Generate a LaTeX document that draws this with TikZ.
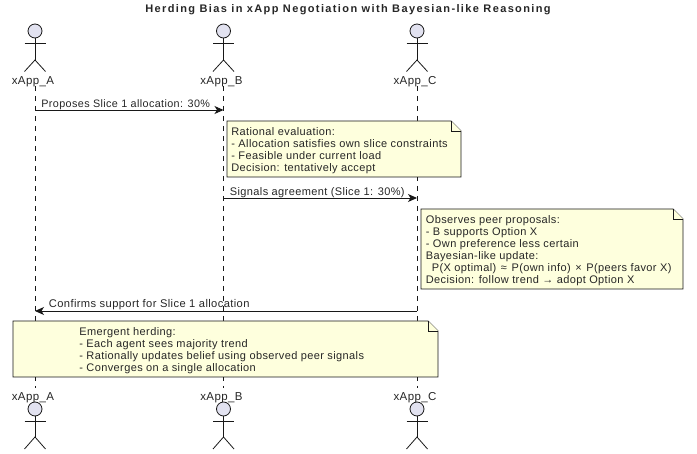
\documentclass[tikz,border=0pt]{standalone}
\usepackage{fontspec}
\setmainfont{Liberation Sans}
\newfontfamily\titlefont[LetterSpace=12.5]{Liberation Sans}
\newfontfamily\notefont[LetterSpace=3.5]{Liberation Sans}
\usetikzlibrary{arrows.meta}
\definecolor{actorFill}{HTML}{E2E2F0}
\definecolor{noteFill}{HTML}{FEFFDD}
\definecolor{lineGray}{HTML}{181818}

\begin{document}
\begin{tikzpicture}[x=1pt, y=-1pt, line width=.8pt, draw=lineGray, text=black!85]
	\tikzstyle{label} = [inner sep=0pt, font=\notefont\fontsize{11}{12}\selectfont, align=left]
	\tikzstyle{actorName} = [inner sep=0pt, font=\notefont\fontsize{11.5}{12}\selectfont]
	\tikzstyle{head} = [circle, draw=lineGray, fill=actorFill, minimum size=14pt, inner sep=0pt]
	\tikzstyle{lifeline} = [dash pattern=on 5pt off 5pt, line width=.8pt]
	\tikzstyle{message} = [-{Stealth[length=9pt, width=8pt, inset=2.5pt]}, line width=.9pt]
	\tikzstyle{noteBox} = [draw=lineGray, fill=noteFill, line width=.9pt]
	\useasboundingbox (0,0) rectangle (697,454);

	\node[inner sep=0pt, font=\titlefont\bfseries\fontsize{11}{12}\selectfont] (title) at (348,10) {Herding Bias in xApp Negotiation with Bayesian-like Reasoning};

	\foreach \name/\pos/\text in {a/35/xApp\_A, b/223.5/xApp\_B, c/417/xApp\_C}
	{
		\node[head] (\name Top) at (\pos,31) {};
		\coordinate (\name Waist) at (\pos,60);
		\draw (\name Top.south) -- (\name Waist);
		\draw (\pos-10.5,43.5) -- (\pos+10.5,43.5);
		\draw (\pos-10.5,71.5) -- (\name Waist) -- (\pos+10.5,71.5);
		\node[actorName] (\name Label) at (\pos-2,81.5) {\text};

		\node[actorName] (\name End) at (\pos-2,398) {\text};
		\node[head] (\name Bottom) at (\pos,409) {};
		\coordinate (\name Foot) at (\pos,437);
		\draw (\name Bottom.south) -- (\name Foot);
		\draw (\pos-10.5,421.5) -- (\pos+10.5,421.5);
		\draw (\pos-10.5,449) -- (\name Foot) -- (\pos+10.5,449);

		\coordinate (\name Start) at (\pos,86);
		\coordinate (\name Stop) at (\pos,388);
		\draw[lifeline] (\name Start) -- (\name Stop);
		\coordinate (\name One) at (\pos,110);
		\coordinate (\name Two) at (\pos,198);
		\coordinate (\name Three) at (\pos,311);
	}

	\draw[message] (aOne) -- (bOne);
	\node[label, anchor=base west, font=\notefont\fontsize{10.8}{12}\selectfont] (firstLabel) at (41,108) {Proposes Slice 1 allocation: 30\%};

	\draw[noteBox] (227,121) -- (451,121) -- (461,131) -- (461,177) -- (227,177) -- cycle;
	\draw[noteBox] (451,121) -- (451,131) -- (461,131);
	\node[label, anchor=west] (rationalNote) at (231,150.5) {Rational evaluation:\\- Allocation satisfies own slice constraints\\- Feasible under current load\\Decision: tentatively accept};

	\draw[message] (bTwo) -- (cTwo);
	\node[label, anchor=base west] (secondLabel) at (229.5,195.5) {Signals agreement (Slice 1: 30\%)};

	\draw[noteBox] (421,209) -- (673,209) -- (683,219) -- (683,289) -- (421,289) -- cycle;
	\draw[noteBox] (673,209) -- (673,219) -- (683,219);
	\node[label, anchor=west] (bayesNote) at (425.5,250.5) {Observes peer proposals:\\- B supports Option X\\- Own preference less certain\\Bayesian-like update:\\\hspace{6pt}P(X optimal)\hspace{1.2pt} ≈ \hspace{1.2pt}P(own info)\hspace{1.2pt} × \hspace{1.2pt}P(peers favor X)\\Decision: follow trend → adopt Option X};

	\draw[message] (cThree) -- (aThree);
	\node[label, anchor=base west, font=\notefont\fontsize{11.15}{12}\selectfont] (thirdLabel) at (48.5,307.5) {Confirms support for Slice 1 allocation};

	\draw[noteBox] (13,321) -- (428,321) -- (438,331) -- (438,377) -- (13,377) -- cycle;
	\draw[noteBox] (428,321) -- (428,331) -- (438,331);
	\node[label, anchor=west] (herdNote) at (79,350.5) {Emergent herding:\\- Each agent sees majority trend\\- Rationally updates belief using observed peer signals\\- Converges on a single allocation};
\end{tikzpicture}
\end{document}
